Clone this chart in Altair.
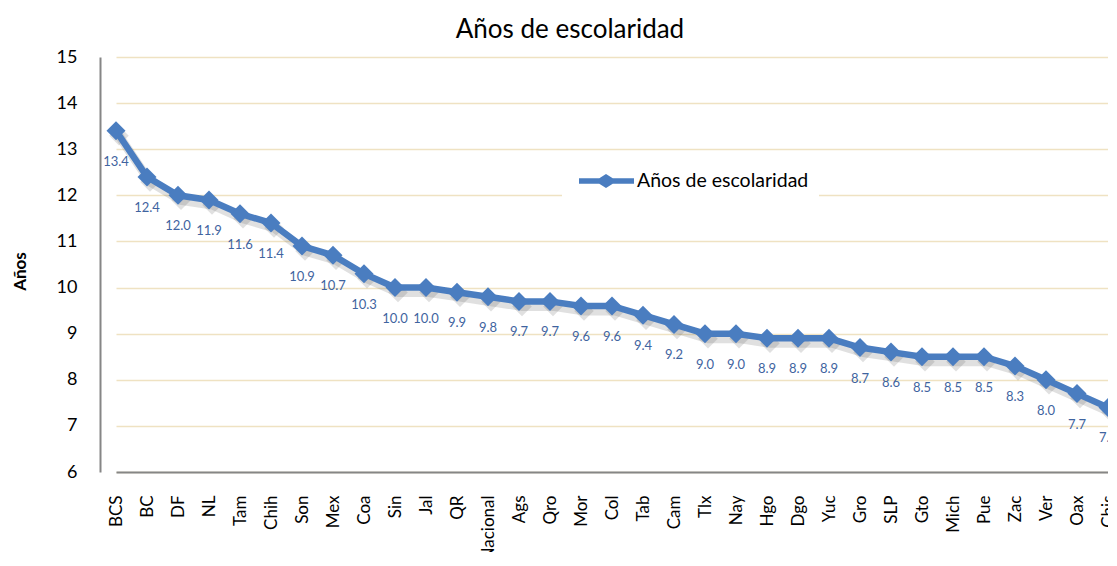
import altair as alt
import pandas as pd

estados = ["BCS", "BC", "DF", "NL", "Tam", "Chih", "Son", "Mex", "Coa", "Sin",
           "Jal", "QR", "Nacional", "Ags", "Qro", "Mor", "Col", "Tab", "Cam",
           "Tlx", "Nay", "Hgo", "Dgo", "Yuc", "Gro", "SLP", "Gto", "Mich",
           "Pue", "Zac", "Ver", "Oax", "Chis"]
anios = [13.4, 12.4, 12.0, 11.9, 11.6, 11.4, 10.9, 10.7, 10.3, 10.0,
         10.0, 9.9, 9.8, 9.7, 9.7, 9.6, 9.6, 9.4, 9.2,
         9.0, 9.0, 8.9, 8.9, 8.9, 8.7, 8.6, 8.5, 8.5,
         8.5, 8.3, 8.0, 7.7, 7.4]
serie = "Años de escolaridad"
y_ticks = list(range(6, 16))

df = pd.DataFrame({"estado": estados, "anios": anios, "serie": serie})
df["etiqueta"] = [f"{v:.1f}" for v in anios]

AZUL = "#4A7DC0"
AZUL_TXT = "#3F64A0"
FONT = "Lato"

x_enc = alt.X(
    "estado:N", sort=estados,
    scale=alt.Scale(type="point", range=[16, 1008], padding=0),
    axis=alt.Axis(title=None, labelAngle=-90, labelFontSize=17, labelFont=FONT,
                  labelColor="#000000", labelPadding=23, ticks=False,
                  domainColor="#868686", domainWidth=2, grid=False,
                  labelOverlap=False),
)
y_enc = alt.Y(
    "anios:Q",
    scale=alt.Scale(domain=[6, 15], nice=False, zero=False),
    axis=alt.Axis(values=y_ticks, title="Años", titleFont=FONT, titleFontSize=17,
                  titleFontWeight="bold", titleColor="#000000", titleAngle=-90,
                  titleX=-80, titleY=214, titleAlign="center", titleBaseline="middle",
                  labelFontSize=18, labelFont=FONT, labelColor="#000000",
                  labelPadding=23, ticks=False, domainColor="#868686",
                  domainWidth=2, gridColor="#EFE2C2", gridWidth=1.5),
)

base = alt.Chart(df)

sombra_linea = base.mark_line(color="#555555", opacity=0.18, strokeWidth=9,
                              xOffset=3, yOffset=5).encode(x=x_enc, y=y_enc)
sombra_puntos = base.mark_point(shape="diamond", filled=True, size=380,
                                color="#555555", opacity=0.18,
                                xOffset=3, yOffset=5).encode(x=x_enc, y=y_enc)

linea = base.mark_line(strokeWidth=6.5).encode(
    x=x_enc, y=y_enc,
    color=alt.Color("serie:N", scale=alt.Scale(range=[AZUL]),
                    legend=alt.Legend(
                        title=None, orient="none", legendX=462, legendY=101,
                        fillColor="white", padding=10,
                        symbolType="M-0.6,0L4.9,0M1.5,0L2.1,-0.38L2.7,0L2.1,0.38Z",
                        symbolSize=400, symbolStrokeWidth=5.5,
                        symbolFillColor=AZUL, symbolStrokeColor=AZUL,
                        symbolOpacity=1, labelOffset=39, labelFontSize=19.5,
                        labelLimit=400,
                        labelFont=FONT, labelColor="#000000")),
)
puntos = base.mark_point(shape="diamond", filled=True, size=360,
                         color=AZUL, opacity=1).encode(x=x_enc, y=y_enc)
etiquetas = base.mark_text(dy=31, fontSize=13, font=FONT, color=AZUL_TXT).encode(
    x=x_enc, y=y_enc, text="etiqueta:N")

chart = alt.layer(sombra_linea, sombra_puntos, linea, puntos, etiquetas).properties(
    width=1008, height=415,
    title=alt.TitleParams(serie, fontSize=26, font=FONT, fontWeight="normal",
                          color="#000000", anchor="middle", dx=-34, offset=5),
    autosize=alt.AutoSizeParams(type="none"),
    padding={"left": 92, "top": 49, "right": 0, "bottom": 80},
).configure_view(stroke=None)

chart.save("out.html", embed_options={"renderer": "svg", "actions": False})
